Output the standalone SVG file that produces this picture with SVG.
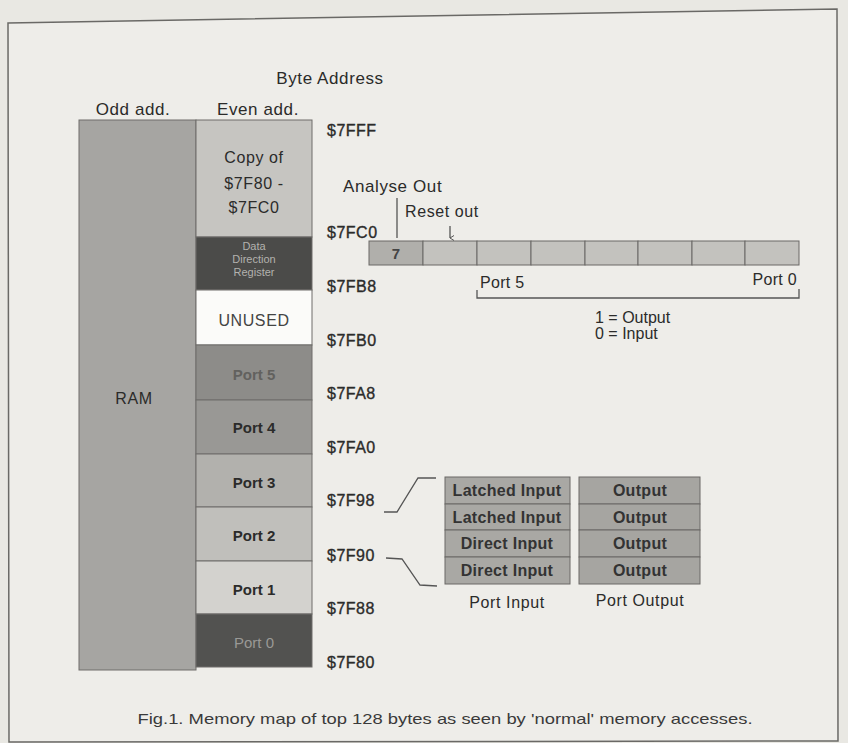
<svg xmlns="http://www.w3.org/2000/svg" width="848" height="743" viewBox="0 0 848 743">
<style>
text{font-family:"Liberation Sans",Arial,sans-serif;fill:#2b2b2a}
.lbl{font-size:17px;letter-spacing:0.6px}
.addr{font-size:16px;letter-spacing:0.5px;stroke:#2b2b2a;stroke-width:0.35}
.c{text-anchor:middle}
.box{stroke:#6e6d6a;stroke-width:1}
.cell{fill:#a9a8a4;stroke:#6a6966;stroke-width:1}
.tb{font-size:16px;font-weight:bold;letter-spacing:0.3px;text-anchor:middle;fill:#333}
.pt{font-size:15px;font-weight:bold;text-anchor:middle}
.ln{fill:none;stroke:#555;stroke-width:1.3}
.bar{fill:#c3c2be;stroke:#6a6966;stroke-width:1}
.dd{font-size:11px;fill:#b3b2ae;text-anchor:middle}
</style>
<defs>
<marker id="ah" markerWidth="6" markerHeight="6" refX="3" refY="5" orient="auto" markerUnits="userSpaceOnUse">
<path d="M0.5,1 L3,5 L5.5,1" fill="none" stroke="#555" stroke-width="1"/>
</marker>
</defs>
<rect x="0" y="0" width="848" height="743" fill="#e9e8e3"/>
<polygon points="8,23 837,9 838,741 9,742" fill="#eeede9" stroke="#6a6966" stroke-width="1.5"/>

<text class="lbl c" x="330" y="84">Byte Address</text>
<text class="lbl c" x="133" y="115">Odd add.</text>
<text class="lbl c" x="258" y="115">Even add.</text>

<g id="ram">
<rect class="box" x="79" y="120" width="117" height="550" fill="#a6a5a2"/>
<text class="lbl c" x="134" y="404" style="font-size:16px">RAM</text>
</g>
<g id="copy">
<rect class="box" x="196" y="120" width="116" height="117" fill="#c6c5c1"/>
<text class="lbl c" x="254" y="163" style="font-size:16px">Copy of</text>
<text class="lbl c" x="254" y="189" style="font-size:16px">$7F80 -</text>
<text class="lbl c" x="254" y="213" style="font-size:16px">$7FC0</text>
</g>
<g id="ddr">
<rect class="box" x="196" y="237" width="116" height="53" fill="#4b4b49"/>
<text class="dd" x="254" y="250">Data</text>
<text class="dd" x="254" y="263">Direction</text>
<text class="dd" x="254" y="276">Register</text>
</g>
<g id="unused">
<rect class="box" x="196" y="290" width="116" height="55" fill="#fbfbf9"/>
<text class="lbl c" x="254" y="326" style="font-size:16px;fill:#444">UNUSED</text>
</g>
<g id="port5">
<rect class="box" x="196" y="345" width="116" height="55" fill="#8d8c89"/>
<text class="pt" x="254" y="380" style="fill:#62615e">Port 5</text>
</g>
<g id="port4">
<rect class="box" x="196" y="400" width="116" height="54" fill="#999895"/>
<text class="pt" x="254" y="433">Port 4</text>
</g>
<g id="port3">
<rect class="box" x="196" y="454" width="116" height="53" fill="#b2b1ad"/>
<text class="pt" x="254" y="488">Port 3</text>
</g>
<g id="port2">
<rect class="box" x="196" y="507" width="116" height="54" fill="#c0bfbb"/>
<text class="pt" x="254" y="541">Port 2</text>
</g>
<g id="port1">
<rect class="box" x="196" y="561" width="116" height="53" fill="#d3d2ce"/>
<text class="pt" x="254" y="595">Port 1</text>
</g>
<g id="port0">
<rect class="box" x="196" y="614" width="116" height="53" fill="#525250"/>
<text class="c" x="254" y="648" style="font-size:15px;fill:#9a9996">Port 0</text>
</g>

<g id="addresses">
<text class="addr" x="327" y="136">$7FFF</text>
<text class="addr" x="327" y="238">$7FC0</text>
<text class="addr" x="327" y="292">$7FB8</text>
<text class="addr" x="327" y="346">$7FB0</text>
<text class="addr" x="327" y="399">$7FA8</text>
<text class="addr" x="327" y="453">$7FA0</text>
<text class="addr" x="327" y="506">$7F98</text>
<text class="addr" x="327" y="561">$7F90</text>
<text class="addr" x="327" y="614">$7F88</text>
<text class="addr" x="327" y="668">$7F80</text>
</g>

<g id="ddr-register">
<rect class="bar" x="369" y="241" width="54" height="24" style="fill:#b0afab"/>
<rect class="bar" x="423" y="241" width="54" height="24"/>
<rect class="bar" x="477" y="241" width="54" height="24"/>
<rect class="bar" x="531" y="241" width="54" height="24"/>
<rect class="bar" x="585" y="241" width="53" height="24"/>
<rect class="bar" x="638" y="241" width="54" height="24"/>
<rect class="bar" x="692" y="241" width="53" height="24"/>
<rect class="bar" x="745" y="241" width="54" height="24"/>
<text class="c" x="396" y="259" style="font-size:15px;font-weight:bold;fill:#444">7</text>
<text class="lbl" x="343" y="192">Analyse Out</text>
<text class="lbl" x="405" y="217" style="font-size:16px">Reset out</text>
<text class="lbl" x="480" y="288" style="font-size:16px;letter-spacing:0.3px">Port 5</text>
<text class="lbl" x="797" y="285" text-anchor="end" style="font-size:16px;letter-spacing:0.3px">Port 0</text>
<text class="lbl" x="595" y="323" style="font-size:16px;letter-spacing:0">1 = Output</text>
<text class="lbl" x="595" y="339" style="font-size:16px;letter-spacing:0">0 = Input</text>
</g>

<g id="port-input">
<rect class="cell" x="445" y="477" width="125" height="27"/>
<rect class="cell" x="445" y="504" width="125" height="26"/>
<rect class="cell" x="445" y="530" width="125" height="27"/>
<rect class="cell" x="445" y="557" width="125" height="27"/>
<text class="tb" x="507" y="496">Latched Input</text>
<text class="tb" x="507" y="523">Latched Input</text>
<text class="tb" x="507" y="549">Direct Input</text>
<text class="tb" x="507" y="576">Direct Input</text>
<text class="lbl c" x="507" y="608" style="font-size:16px">Port Input</text>
</g>
<g id="port-output">
<rect class="cell" x="579" y="477" width="121" height="27" style="fill:#a6a5a1"/>
<rect class="cell" x="579" y="504" width="121" height="26" style="fill:#a6a5a1"/>
<rect class="cell" x="579" y="530" width="121" height="27" style="fill:#a6a5a1"/>
<rect class="cell" x="579" y="557" width="121" height="27" style="fill:#a6a5a1"/>
<text class="tb" x="640" y="496">Output</text>
<text class="tb" x="640" y="523">Output</text>
<text class="tb" x="640" y="549">Output</text>
<text class="tb" x="640" y="576">Output</text>
<text class="lbl c" x="640" y="606" style="font-size:16px">Port Output</text>
</g>

<g id="connectors">
<path class="ln" d="M397,198 L397,238"/>
<path class="ln" d="M450,226 L450,238" marker-end="url(#ah)"/>
<path class="ln" d="M477,290 L477,298 L799,298 L799,289"/>
<path class="ln" d="M384,512 L397,512 L418,478 L436,478"/>
<path class="ln" d="M386,558 L402,559 L420,585 L437,586"/>
</g>

<text x="445" y="724" text-anchor="middle" textLength="615" lengthAdjust="spacingAndGlyphs" style="font-size:15px;fill:#3a3a3a">Fig.1.  Memory map of top 128 bytes as seen by 'normal' memory accesses.</text>
</svg>
